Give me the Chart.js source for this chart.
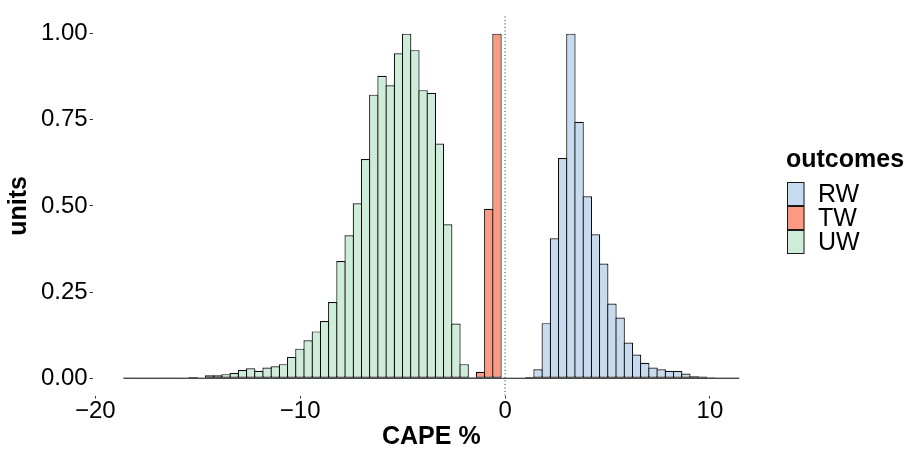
<!DOCTYPE html>
<html>
<head>
<meta charset="utf-8">
<script src="https://cdn.jsdelivr.net/npm/chart.js@4.4.1/dist/chart.umd.min.js"></script>
<style>
html,body{margin:0;padding:0;background:#ffffff;}
#wrap{width:913px;height:451px;position:relative;}
</style>
</head>
<body>
<div id="wrap"><canvas id="c" width="913" height="451"></canvas></div>
<script>
// ---------- data ----------
const binCenters = [
  -18.430, -18.029, -17.628, -17.227, -16.826, -16.426, -16.025, -15.624, -15.223, -14.822,
  -14.422, -14.021, -13.620, -13.219, -12.818, -12.418, -12.017, -11.616, -11.215, -10.814,
  -10.414, -10.013, -9.612, -9.211, -8.810, -8.410, -8.009, -7.608, -7.207, -6.806,
  -6.406, -6.005, -5.604, -5.203, -4.802, -4.402, -4.001, -3.600, -3.199, -2.798,
  -2.398, -1.997, -1.596, -1.195, -0.794, -0.394, 0.007, 0.408, 0.809, 1.210,
  1.610, 2.011, 2.412, 2.813, 3.214, 3.614, 4.015, 4.416, 4.817, 5.218,
  5.618, 6.019, 6.420, 6.821, 7.222, 7.622, 8.023, 8.424, 8.825, 9.226,
  9.626, 10.027, 10.428, 10.829, 11.230
];
const seriesNames = ['RW', 'TW', 'UW'];
// first bin index of each series
const rwFirstBin = 49;
const twFirstBin = 43;
const uwFirstBin = 0;
const rwValues = [0.004, 0.026, 0.160, 0.406, 0.639, 1.000, 0.744, 0.528, 0.418, 0.333,
  0.217, 0.176, 0.104, 0.069, 0.045, 0.031, 0.026, 0.022, 0.021, 0.014,
  0.006, 0.005, 0.003, 0.002, 0.001, 0.001];
const twValues = [0.019, 0.492, 1.000];
const uwValues = [0.001, 0.001, 0.001, 0.001, 0.001, 0.002, 0.002, 0.001, 0.004, 0.002,
  0.009, 0.009, 0.012, 0.015, 0.024, 0.029, 0.022, 0.031, 0.035, 0.041,
  0.062, 0.086, 0.110, 0.136, 0.166, 0.221, 0.340, 0.415, 0.508, 0.636,
  0.823, 0.878, 0.850, 0.943, 1.000, 0.952, 0.836, 0.828, 0.681, 0.447,
  0.159, 0.041, 0.003];
const xTicks = [-20, -10, 0, 10];
const yTicks = [0, 0.25, 0.5, 0.75, 1.0];
const refLineX = 0;
const xTitle = 'CAPE %';
const yTitle = 'units';
const legendTitle = 'outcomes';

// ---------- styles ----------
const fillColors = { RW: '#C6DBEF', TW: '#FC9983', UW: '#CDEDD9' };
const FONT = '"Liberation Sans", Arial, Helvetica, sans-serif';
Chart.defaults.font.family = FONT;

function toPoints(values, first) {
  return values.map((v, i) => ({ x: binCenters[first + i], y: v }));
}
const seriesData = {
  RW: toPoints(rwValues, rwFirstBin),
  TW: toPoints(twValues, twFirstBin),
  UW: toPoints(uwValues, uwFirstBin)
};

const datasets = seriesNames.map(name => ({
  label: name,
  data: seriesData[name],
  backgroundColor: fillColors[name],
  borderColor: '#0d0d0d',
  borderWidth: 1.2,
  borderSkipped: false,
  inflateAmount: 0,
  grouped: false,
  barPercentage: 1.146,
  categoryPercentage: 1
}));

const fmtX = v => (v < 0 ? '\u2212' + Math.abs(v) : String(v));

const decorPlugin = {
  id: 'decor',
  afterDatasetsDraw(chart) {
    const { ctx, chartArea } = chart;
    const xs = chart.scales.x, ys = chart.scales.y;
    const w = binCenters[1] - binCenters[0];
    const y0 = ys.getPixelForValue(0);
    ctx.save();
    ctx.strokeStyle = '#0d0d0d';
    ctx.lineWidth = 1.2;
    ctx.beginPath();
    ctx.moveTo(xs.getPixelForValue(binCenters[0] - w / 2), y0);
    ctx.lineTo(xs.getPixelForValue(binCenters[binCenters.length - 1] + w / 2), y0);
    ctx.stroke();
    const xr = xs.getPixelForValue(refLineX);
    ctx.setLineDash([1, 2.5]);
    ctx.lineWidth = 1;
    ctx.strokeStyle = '#222';
    ctx.beginPath();
    ctx.moveTo(xr, chartArea.top);
    ctx.lineTo(xr, chartArea.bottom);
    ctx.stroke();
    ctx.restore();
  },
  afterDraw(chart) {
    const ctx = chart.ctx;
    ctx.save();
    ctx.textAlign = 'left';
    ctx.textBaseline = 'middle';
    ctx.fillStyle = '#000';
    ctx.font = 'bold 25px ' + FONT;
    ctx.fillText(legendTitle, 786, 160);
    const keyX = 787, keyW = 17.5, keyH = 24, keyTop = 182;
    ctx.font = '25px ' + FONT;
    chart.data.datasets.forEach((ds, i) => {
      const y = keyTop + i * keyH;
      ctx.fillStyle = ds.backgroundColor;
      ctx.fillRect(keyX, y, keyW, keyH);
      ctx.strokeStyle = '#1a1a1a';
      ctx.lineWidth = 1;
      ctx.strokeRect(keyX + 0.5, y + 0.5, keyW - 1, keyH - 1);
      ctx.fillStyle = '#000';
      ctx.fillText(ds.label, 818, y + keyH / 2 + 1);
    });
    ctx.restore();
  }
};

new Chart(document.getElementById('c'), {
  type: 'bar',
  data: { datasets },
  options: {
    responsive: false,
    animation: false,
    layout: { padding: { left: 0, right: 143, top: 4.5, bottom: 0 } },
    plugins: { legend: { display: false }, tooltip: { enabled: false } },
    scales: {
      x: {
        type: 'linear',
        offset: false,
        min: -20.133,
        max: 12.933,
        afterBuildTicks: s => { s.ticks = xTicks.map(v => ({ value: v })); },
        afterFit: s => { s.height = 55.5; },
        grid: { display: true, offset: false, drawOnChartArea: false, drawTicks: true, tickLength: 3, color: '#333', tickColor: '#333', lineWidth: 1 },
        border: { display: false },
        ticks: { font: { size: 24, lineHeight: 1 }, color: '#000', padding: 1, maxRotation: 0, autoSkip: false, callback: v => fmtX(v) },
        title: { display: true, text: xTitle, color: '#000', font: { size: 25, weight: 'bold', lineHeight: 1.1 }, padding: 0 }
      },
      y: {
        type: 'linear',
        min: -0.05,
        max: 1.05,
        afterBuildTicks: s => { s.ticks = yTicks.map(v => ({ value: v })); },
        afterFit: s => { s.width = 92.6; },
        grid: { display: true, drawOnChartArea: false, drawTicks: true, tickLength: 3, color: '#333', tickColor: '#333', lineWidth: 1 },
        border: { display: false },
        ticks: { font: { size: 24 }, color: '#000', padding: 2, callback: v => Number(v).toFixed(2) },
        title: { display: true, text: yTitle, color: '#000', font: { size: 25, weight: 'bold', lineHeight: 1.2 }, padding: { top: 4, bottom: 0 } }
      }
    }
  },
  plugins: [decorPlugin]
});
</script>
</body>
</html>
